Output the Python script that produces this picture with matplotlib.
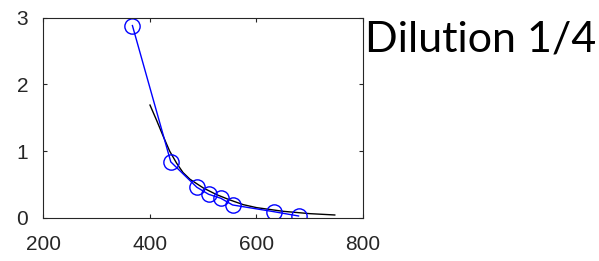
import matplotlib
matplotlib.use("Agg")
import matplotlib.pyplot as plt

# measured points (blue)
meas_x = [367, 439, 488, 510, 533, 555, 632, 679]
meas_y = [2.88, 0.84, 0.46, 0.355, 0.295, 0.195, 0.095, 0.03]

# fitted curve (black)
fit_x = [400, 412, 425, 437, 450, 462, 475, 500, 525, 550, 575, 600, 650, 700, 747]
fit_y = [1.69, 1.47, 1.22, 1.00, 0.82, 0.68, 0.58, 0.45, 0.35, 0.27, 0.20, 0.155, 0.10, 0.065, 0.045]

x_ticks = [200, 400, 600, 800]
y_ticks = [0, 1, 2, 3]
title_text = "Dilution 1/4"

fig = plt.figure(figsize=(5.99, 2.61), dpi=100)
ax = fig.add_axes([0.0726, 0.1648, 0.5334, 0.768])

ax.plot(fit_x, fit_y, color="black", lw=1.0)
ax.plot(meas_x, meas_y, color="#0000ff", lw=1.0, marker="o", ms=11,
        mfc="none", mec="#0000ff", mew=1.0)

ax.set_xlim(200, 800)
ax.set_ylim(0, 3)
ax.set_xticks(x_ticks)
ax.set_yticks(y_ticks)
gray = "#262626"
for s in ax.spines.values():
    s.set_color(gray)
    s.set_linewidth(0.8)
ax.tick_params(direction="in", length=3, width=0.8, colors=gray,
               top=True, right=True, labelsize=15)
ax.tick_params(axis="x", pad=12)
ax.tick_params(axis="y", pad=11)
for lab in ax.get_xticklabels() + ax.get_yticklabels():
    lab.set_family(["Liberation Sans", "DejaVu Sans"])
    lab.set_color(gray)

fig.text(365 / 599, 1 - 20 / 261, title_text, fontsize=31, color="black",
         family=["Lato", "DejaVu Sans"], ha="left", va="top")

fig.savefig("out.png", dpi=100)
